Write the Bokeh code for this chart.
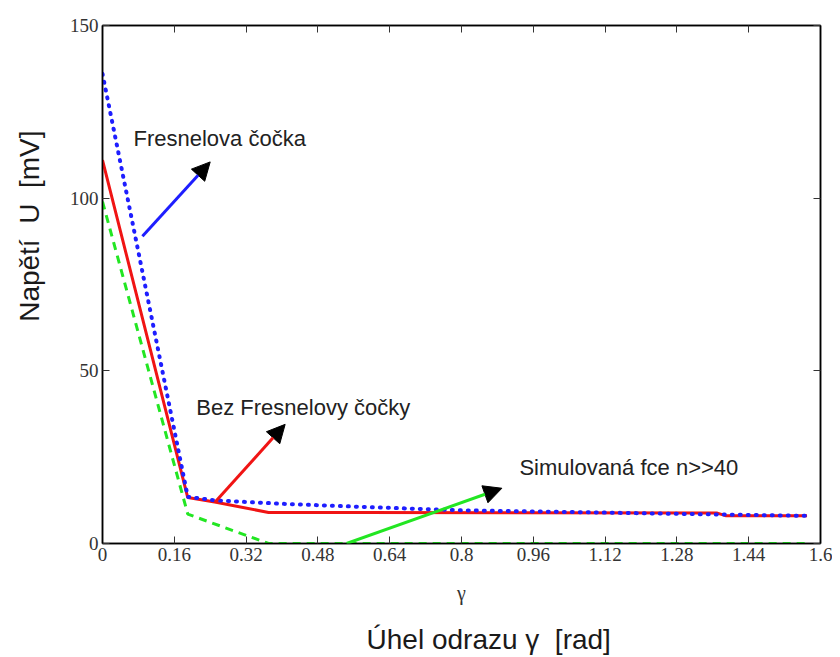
from bokeh.plotting import figure
from bokeh.models import (Range1d, FixedTicker, LinearAxis, Label, Arrow,
                          NormalHead)
from bokeh.embed import file_html
from bokeh.resources import INLINE

# ---- data ----
x_ticks = [0, 0.16, 0.32, 0.48, 0.64, 0.8, 0.96, 1.12, 1.28, 1.44, 1.6]
x_tick_labels = ["0", "0.16", "0.32", "0.48", "0.64", "0.8", "0.96", "1.12", "1.28", "1.44", "1.6"]
y_ticks = [0, 50, 100, 150]
y_tick_labels = ["0", "50", "100", "150"]

# Fresnelova čočka (blue dotted)
fres_x = [0.0, 0.19, 0.25, 0.40, 0.60, 0.80, 1.00, 1.28, 1.57]
fres_y = [136.0, 13.5, 12.5, 11.5, 10.5, 9.6, 9.2, 8.6, 8.0]
# Bez Fresnelovy čočky (red solid)
bez_x = [0.0, 0.19, 0.25, 0.37, 0.58, 1.37, 1.39, 1.57]
bez_y = [111.0, 13.3, 12.0, 9.0, 9.0, 8.8, 8.0, 8.0]
# Simulovaná fce n>>40 (green dashed)
sim_x = [0.0, 0.19, 0.37, 1.57]
sim_y = [99.0, 8.5, 0.0, 0.0]

# annotation arrows: (x_start, y_start, x_end, y_end)
arrow_fres = (0.089, 89.0, 0.24, 110.5)
arrow_bez = (0.251, 12.0, 0.407, 34.5)
arrow_sim = (0.544, 0.0, 0.89, 16.0)

texts = ["Fresnelova čočka", "Bez Fresnelovy čočky", "Simulovaná fce n>>40"]
text_pos = [(0.069, 117.4), (0.209, 39.4), (0.929, 22.0)]

NB = "\u00a0"
x_title = NB * 7 + "Úhel odrazu γ" + NB + " [rad]"
y_title = NB * 15 + "Napětí" + NB + " U" + NB + " [mV]"
x_symbol = "γ"

BLUE = "#1e1eff"
RED = "#f01414"
GREEN = "#22e622"

p = figure(width=832, height=657, output_backend="svg", toolbar_location=None,
           x_range=Range1d(0, 1.6), y_range=Range1d(0, 150),
           min_border_left=102, min_border_right=12, min_border_top=25,
           min_border_bottom=114, background_fill_color="white",
           border_fill_color="white")
p.grid.visible = False
p.outline_line_color = "black"
p.outline_line_width = 1.5

tick_font = "Liberation Serif"


def style_axis(ax, show_labels):
    ax.axis_line_color = "black"
    ax.axis_line_width = 1.5
    ax.major_tick_in = 7
    ax.major_tick_out = 0
    ax.minor_tick_in = 0
    ax.minor_tick_out = 0
    ax.major_tick_line_color = "#333333"
    ax.major_label_text_font = tick_font
    ax.major_label_text_font_size = "19px"
    ax.major_label_text_color = "#333333" if show_labels else None


xax = p.xaxis[0]
xax.ticker = FixedTicker(ticks=x_ticks)
xax.major_label_overrides = {t: l for t, l in zip(x_ticks, x_tick_labels)}
style_axis(xax, True)
xax.major_label_standoff = 4
xax.axis_label = x_symbol
xax.axis_label_text_font = tick_font
xax.axis_label_text_font_size = "20px"
xax.axis_label_text_font_style = "normal"
xax.axis_label_text_color = "#333333"
xax.axis_label_text_line_height = 1.0
xax.axis_label_standoff = 18

# second (invisible) bottom axis carrying the main x title
xax2 = LinearAxis(ticker=FixedTicker(ticks=[]))
xax2.axis_line_color = None
xax2.major_tick_in = 0
xax2.major_tick_out = 0
xax2.minor_tick_in = 0
xax2.minor_tick_out = 0
xax2.major_label_text_font_size = "0px"
xax2.major_label_standoff = 0
xax2.axis_label = x_title
xax2.axis_label_text_font = "Liberation Sans"
xax2.axis_label_text_font_size = "28px"
xax2.axis_label_text_font_style = "normal"
xax2.axis_label_text_color = "#1a1a1a"
xax2.axis_label_text_line_height = 1.0
xax2.axis_label_standoff = 17
p.add_layout(xax2, "below")

yax = p.yaxis[0]
yax.ticker = FixedTicker(ticks=y_ticks)
yax.major_label_overrides = {t: l for t, l in zip(y_ticks, y_tick_labels)}
style_axis(yax, True)
yax.major_label_standoff = 4
yax.axis_label = y_title
yax.axis_label_text_font = "Liberation Sans"
yax.axis_label_text_font_size = "28px"
yax.axis_label_text_font_style = "normal"
yax.axis_label_text_color = "#1a1a1a"
yax.axis_label_standoff = 22

top = LinearAxis(ticker=FixedTicker(ticks=x_ticks))
style_axis(top, False)
top.major_label_text_font_size = "0px"
p.add_layout(top, "above")
right = LinearAxis(ticker=FixedTicker(ticks=y_ticks))
style_axis(right, False)
right.major_label_text_font_size = "0px"
p.add_layout(right, "right")

# lines
p.line(bez_x, bez_y, line_color=RED, line_width=3)
p.line(sim_x, sim_y, line_color=GREEN, line_width=3, line_dash="8 6")
p.line(fres_x, fres_y, line_color=BLUE, line_width=4, line_dash="1 7",
       line_cap="round")

# arrows
for (x0, y0, x1, y1), col in [(arrow_fres, BLUE), (arrow_bez, RED), (arrow_sim, GREEN)]:
    p.add_layout(Arrow(x_start=x0, y_start=y0, x_end=x1, y_end=y1,
                       line_color=col, line_width=3,
                       end=NormalHead(size=18, fill_color="black",
                                      line_color="black", line_width=1)))

for t, (tx, ty) in zip(texts, text_pos):
    p.add_layout(Label(x=tx, y=ty, text=t, text_font="Liberation Sans",
                       text_font_size="22px", text_color="#222222",
                       text_baseline="alphabetic", text_align="left"))

open("out.html", "w").write(file_html(p, INLINE))
